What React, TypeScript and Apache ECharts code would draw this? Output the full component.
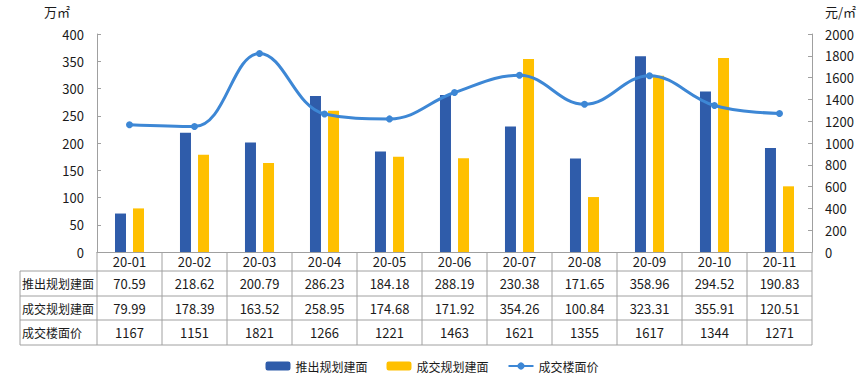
import React, { useEffect, useRef } from "react";
import * as echarts from "echarts";

const categories = ["20-01", "20-02", "20-03", "20-04", "20-05", "20-06", "20-07", "20-08", "20-09", "20-10", "20-11"];
const launchArea = [70.59, 218.62, 200.79, 286.23, 184.18, 288.19, 230.38, 171.65, 358.96, 294.52, 190.83];
const dealArea = [79.99, 178.39, 163.52, 258.95, 174.68, 171.92, 354.26, 100.84, 323.31, 355.91, 120.51];
const dealPrice = [1167, 1151, 1821, 1266, 1221, 1463, 1621, 1355, 1617, 1344, 1271];
const seriesNames = ["推出规划建面", "成交规划建面", "成交楼面价"];
const leftUnit = "万㎡";
const rightUnit = "元/㎡";

const FONT = "'Noto Sans CJK SC', 'Noto Sans', sans-serif";
const W = 864;
const H = 377;
const GRID_L = 97;
const GRID_R = 812;
const GRID_T = 34;
const AXIS_Y = 252;
const TABLE_L = 20;
const ROWS_Y = [AXIS_Y, 271, 296, 320, 345];
const LINE_C = "#a0a0a0";
const TEXT_C = "#1a1a1a";

export default function App() {
  const ref = useRef<HTMLDivElement>(null);
  useEffect(() => {
    if (!ref.current) return;
    const chart = echarts.init(ref.current, undefined, { renderer: "svg" });
    const n = categories.length;
    const colW = (GRID_R - GRID_L) / n;
    const graphics: any[] = [];
    graphics.push({ type: "text", left: 44, top: 5, style: { text: leftUnit, font: `13px ${FONT}`, fill: TEXT_C } });
    graphics.push({ type: "text", left: 825, top: 5, style: { text: rightUnit, font: `13px ${FONT}`, fill: TEXT_C } });
    for (let r = 1; r < ROWS_Y.length; r++) {
      graphics.push({ type: "line", shape: { x1: TABLE_L, y1: ROWS_Y[r], x2: GRID_R, y2: ROWS_Y[r] }, style: { stroke: LINE_C, lineWidth: 1 }, silent: true });
    }
    for (let i = 0; i <= n; i++) {
      const x = GRID_L + colW * i;
      graphics.push({ type: "line", shape: { x1: x, y1: AXIS_Y, x2: x, y2: ROWS_Y[4] }, style: { stroke: LINE_C, lineWidth: 1 }, silent: true });
    }
    graphics.push({ type: "line", shape: { x1: TABLE_L, y1: ROWS_Y[1], x2: TABLE_L, y2: ROWS_Y[4] }, style: { stroke: LINE_C, lineWidth: 1 }, silent: true });
    const rows: (number[])[] = [launchArea, dealArea, dealPrice];
    rows.forEach((vals, r) => {
      const cy = (ROWS_Y[r + 1] + ROWS_Y[r + 2]) / 2;
      graphics.push({ type: "text", x: TABLE_L + 2, y: cy, style: { text: seriesNames[r], font: `12px ${FONT}`, fill: TEXT_C, verticalAlign: "middle", align: "left" } });
      vals.forEach((v, i) => {
        const cx = GRID_L + colW * (i + 0.5);
        const txt = r === 2 ? String(v) : v.toFixed(2);
        graphics.push({ type: "text", x: cx, y: cy, style: { text: txt, font: `13px ${FONT}`, fill: TEXT_C, align: "center", verticalAlign: "middle" } });
      });
    });

    chart.setOption({
      animation: false,
      textStyle: { fontFamily: FONT },
      grid: { left: GRID_L, right: W - GRID_R, top: GRID_T, bottom: H - AXIS_Y, containLabel: false },
      legend: {
        data: seriesNames,
        left: "center",
        top: 355,
        itemWidth: 25,
        itemHeight: 9,
        itemGap: 19,
        textStyle: { fontSize: 12, color: TEXT_C, fontFamily: FONT },
      },
      xAxis: {
        type: "category",
        data: categories,
        axisLine: { lineStyle: { color: LINE_C } },
        axisTick: { show: false },
        axisLabel: { color: TEXT_C, fontSize: 13, margin: 3, interval: 0 },
      },
      yAxis: [
        {
          type: "value",
          min: 0,
          max: 400,
          interval: 50,
          splitLine: { show: false },
          axisLine: { show: true, lineStyle: { color: LINE_C } },
          axisTick: { show: true, inside: true, length: 4, lineStyle: { color: LINE_C } },
          axisLabel: { color: TEXT_C, fontSize: 13, margin: 13, formatter: (v: number) => String(v) },
        },
        {
          type: "value",
          min: 0,
          max: 2000,
          interval: 200,
          splitLine: { show: false },
          axisLine: { show: true, lineStyle: { color: LINE_C } },
          axisTick: { show: true, inside: true, length: 4, lineStyle: { color: LINE_C } },
          axisLabel: { color: TEXT_C, fontSize: 13, margin: 13, formatter: (v: number) => String(v) },
        },
      ],
      series: [
        { name: seriesNames[0], type: "bar", data: launchArea, barWidth: 11, barGap: "64%", itemStyle: { color: "#2F5CAA" } },
        { name: seriesNames[1], type: "bar", data: dealArea, barWidth: 11, itemStyle: { color: "#FFC000" } },
        {
          name: seriesNames[2],
          type: "line",
          yAxisIndex: 1,
          data: dealPrice,
          smooth: 0.4,
          symbol: "circle",
          symbolSize: 7,
          lineStyle: { width: 3, color: "#3D87D5" },
          itemStyle: { color: "#3D87D5" },
        },
      ],
      graphic: graphics,
    });
    return () => chart.dispose();
  }, []);
  return <div ref={ref} style={{ width: W, height: H, position: "absolute", left: 0, top: 0 }} />;
}
